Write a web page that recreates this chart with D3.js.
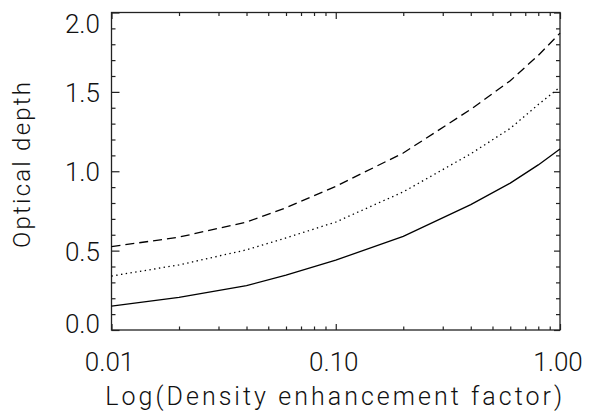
<!DOCTYPE html>
<html>
<head>
<meta charset="utf-8">
<script src="https://cdn.jsdelivr.net/npm/d3@7"></script>
<style>
  html, body { margin: 0; padding: 0; background: #fff; }
  svg { display: block; }
  text { font-family: "Roboto", "Liberation Sans", "DejaVu Sans", sans-serif; font-weight: 300; fill: #111; }
</style>
</head>
<body>
<svg id="chart" width="606" height="413"></svg>
<script>
// ---- data ----
const factors = [0.01, 0.02, 0.04, 0.06, 0.1, 0.2, 0.4, 0.6, 0.8, 1.0];
const solidSeries = [0.15, 0.205, 0.28, 0.345, 0.44, 0.59, 0.79, 0.925, 1.04, 1.14];
const dottedSeries = [0.34, 0.41, 0.505, 0.58, 0.68, 0.87, 1.11, 1.27, 1.42, 1.53];
const dashedSeries = [0.525, 0.585, 0.68, 0.77, 0.905, 1.115, 1.39, 1.57, 1.73, 1.87];

const xMajorTicks = [0.01, 0.1, 1.0];
const xTickLabels = ["0.01", "0.10", "1.00"];
const xMinorTicks = [0.02,0.03,0.04,0.05,0.06,0.07,0.08,0.09,0.2,0.3,0.4,0.5,0.6,0.7,0.8,0.9];
const yMajorTicks = [0.0, 0.5, 1.0, 1.5, 2.0];
const yTickLabels = ["0.0", "0.5", "1.0", "1.5", "2.0"];
const yMinorTicks = [0.1,0.2,0.3,0.4,0.6,0.7,0.8,0.9,1.1,1.2,1.3,1.4,1.6,1.7,1.8,1.9];

const xTitle = "Log(Density enhancement factor)";
const yTitle = "Optical depth";

// ---- layout ----
const L = 111.5, R = 560, T = 12.5, B = 330;
const svg = d3.select("#chart");

const x = d3.scaleLog().domain([0.01, 1.0]).range([L, R]);
const y = d3.scaleLinear().domain([0, 2.0]).range([B, T]);

const axisColor = "#222";

// frame
svg.append("rect")
  .attr("x", L).attr("y", T).attr("width", R - L).attr("height", B - T)
  .attr("fill", "none").attr("stroke", axisColor).attr("stroke-width", 1.3);

function styleAxis(g) {
  g.select(".domain").remove();
  g.selectAll("line").attr("stroke", axisColor).attr("stroke-width", 1.2);
  g.selectAll("text").remove();
}

// bottom axis (ticks inward = up)
svg.append("g").attr("transform", `translate(0,${B})`)
  .call(d3.axisTop(x).tickValues(xMajorTicks).tickSize(6).tickFormat(""))
  .call(styleAxis);
svg.append("g").attr("transform", `translate(0,${B})`)
  .call(d3.axisTop(x).tickValues(xMinorTicks).tickSize(3.5).tickFormat(""))
  .call(styleAxis);
// top axis (ticks inward = down)
svg.append("g").attr("transform", `translate(0,${T})`)
  .call(d3.axisBottom(x).tickValues(xMajorTicks).tickSize(6.5).tickFormat(""))
  .call(styleAxis);
svg.append("g").attr("transform", `translate(0,${T})`)
  .call(d3.axisBottom(x).tickValues(xMinorTicks).tickSize(3.5).tickFormat(""))
  .call(styleAxis);
// left axis (ticks inward = right)
svg.append("g").attr("transform", `translate(${L},0)`)
  .call(d3.axisRight(y).tickValues(yMajorTicks).tickSize(8).tickFormat(""))
  .call(styleAxis);
svg.append("g").attr("transform", `translate(${L},0)`)
  .call(d3.axisRight(y).tickValues(yMinorTicks).tickSize(4).tickFormat(""))
  .call(styleAxis);
// right axis (ticks inward = left)
svg.append("g").attr("transform", `translate(${R},0)`)
  .call(d3.axisLeft(y).tickValues(yMajorTicks).tickSize(6).tickFormat(""))
  .call(styleAxis);
svg.append("g").attr("transform", `translate(${R},0)`)
  .call(d3.axisLeft(y).tickValues(yMinorTicks).tickSize(4).tickFormat(""))
  .call(styleAxis);

// x tick labels
svg.append("g").selectAll("text").data(xMajorTicks).join("text")
  .attr("x", d => x(d) - 2)
  .attr("y", B + 41)
  .attr("text-anchor", "middle")
  .attr("font-size", 26)
  .text((d, i) => xTickLabels[i]);

// y tick labels (IDL nudges the end labels inside the axis range)
svg.append("g").selectAll("text").data(yMajorTicks).join("text")
  .attr("x", L - 11.5)
  .attr("y", (d, i) => y(d) + 10 + (i === yMajorTicks.length - 1 ? 10.5 : 0) + (i === 0 ? -7 : 0))
  .attr("text-anchor", "end")
  .attr("font-size", 26)
  .text((d, i) => yTickLabels[i]);

// axis titles
svg.append("text")
  .attr("x", (L + R) / 2 - 2).attr("y", 405)
  .attr("text-anchor", "middle")
  .attr("font-size", 25)
  .attr("textLength", 457).attr("lengthAdjust", "spacing")
  .text(xTitle);

svg.append("text")
  .attr("transform", "translate(30,165) rotate(-90)")
  .attr("text-anchor", "middle")
  .attr("font-size", 24)
  .attr("textLength", 166).attr("lengthAdjust", "spacing")
  .text(yTitle);

// curves
const line = d3.line().x(d => x(d[0])).y(d => y(d[1]));
const seriesList = [
  { values: solidSeries, dash: null },
  { values: dottedSeries, dash: "1.4,3.4" },
  { values: dashedSeries, dash: "9,5" }
];
svg.append("g").selectAll("path").data(seriesList).join("path")
  .attr("d", s => line(factors.map((f, i) => [f, s.values[i]])))
  .attr("fill", "none")
  .attr("stroke", "#000")
  .attr("stroke-width", 1.3)
  .attr("stroke-dasharray", s => s.dash);
</script>
</body>
</html>
